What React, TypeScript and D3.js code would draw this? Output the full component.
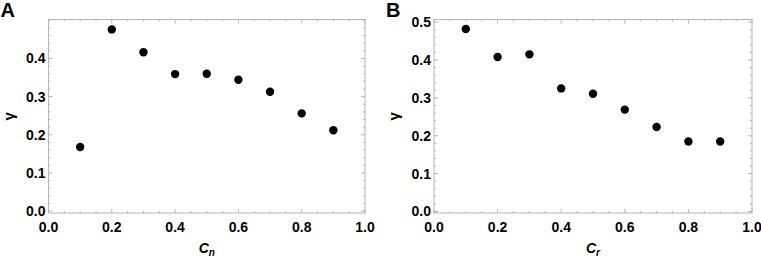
import React from "react";
import * as d3 from "d3";

const xValues = [0.1, 0.2, 0.3, 0.4, 0.5, 0.6, 0.7, 0.8, 0.9];
const gammaA = [0.168, 0.476, 0.416, 0.359, 0.36, 0.344, 0.3125, 0.256, 0.212];
const gammaB = [0.482, 0.408, 0.415, 0.325, 0.311, 0.269, 0.223, 0.185, 0.185];
const xTicks = [0, 0.2, 0.4, 0.6, 0.8, 1.0];
const yTicksA = [0, 0.1, 0.2, 0.3, 0.4];
const yTicksB = [0, 0.1, 0.2, 0.3, 0.4, 0.5];

type PanelProps = {
  letter: string;
  sub: string;
  values: number[];
  yTicks: number[];
  yDomain: [number, number];
  left: number;
  right: number;
  top: number;
  bottom: number;
};

const frameColor = "#b5b5b5";
const font = "'Liberation Sans', Arial, sans-serif";

function Panel({ letter, sub, values, yTicks, yDomain, left, right, top, bottom }: PanelProps) {
  const x = d3.scaleLinear().domain([0, 1]).range([left, right]);
  const y = d3.scaleLinear().domain(yDomain).range([bottom, top]);
  const xMinor = d3.range(0, 1.0001, 0.05);
  const yMinor = d3.range(0, yDomain[1], 0.02);
  const isMajorX = (v: number) => xTicks.some((t) => Math.abs(t - v) < 1e-6);
  const isMajorY = (v: number) => yTicks.some((t) => Math.abs(t - v) < 1e-6);
  return (
    <g>
      <text x={left - 48} y={17} fontFamily={font} fontWeight="bold" fontSize={20}>
        {letter}
      </text>
      <rect x={left} y={top} width={right - left} height={bottom - top} fill="none" stroke={frameColor} strokeWidth={1} />
      {xMinor.map((v, i) => {
        const len = isMajorX(v) ? 4 : 2;
        const px = x(v);
        return (
          <g key={"xm" + i}>
            <line x1={px} x2={px} y1={bottom} y2={bottom - len} stroke={frameColor} />
            <line x1={px} x2={px} y1={top} y2={top + len} stroke={frameColor} />
          </g>
        );
      })}
      {yMinor.map((v, i) => {
        const len = isMajorY(v) ? 4 : 2;
        const py = y(v);
        return (
          <g key={"ym" + i}>
            <line x1={left} x2={left + len} y1={py} y2={py} stroke={frameColor} />
            <line x1={right} x2={right - len} y1={py} y2={py} stroke={frameColor} />
          </g>
        );
      })}
      {xTicks.map((t) => (
        <text key={"xt" + t} x={x(t)} y={bottom + 19} textAnchor="middle" fontFamily={font} fontWeight="bold" fontSize={14}>
          {d3.format(".1f")(t)}
        </text>
      ))}
      {yTicks.map((t) => (
        <text key={"yt" + t} x={left - 3} y={y(t) + 5} textAnchor="end" fontFamily={font} fontWeight="bold" fontSize={14}>
          {d3.format(".1f")(t)}
        </text>
      ))}
      <text x={(left + right) / 2} y={bottom + 40} textAnchor="middle" fontFamily={font} fontWeight="bold" fontStyle="italic" fontSize={14}>
        C<tspan fontSize={10} dy={3}>{sub}</tspan>
      </text>
      <text
        transform={`translate(${left - 35},${(top + bottom) / 2}) rotate(-90)`}
        textAnchor="middle"
        fontFamily={font}
        fontWeight="bold"
        fontSize={15}
      >
        γ
      </text>
      {values.map((v, i) => (
        <circle key={"p" + i} cx={x(xValues[i])} cy={y(v)} r={4.2} fill="#000" />
      ))}
    </g>
  );
}

export default function App() {
  return (
    <svg width={761} height={261} style={{ position: "absolute", left: 0, top: 0, background: "#fff" }}>
      <rect width={761} height={261} fill="#fff" />
      <Panel letter="A" sub="n" values={gammaA} yTicks={yTicksA} yDomain={[-0.005, 0.502]} left={48.5} right={365} top={19.5} bottom={213} />
      <Panel letter="B" sub="r" values={gammaB} yTicks={yTicksB} yDomain={[-0.004, 0.507]} left={434} right={752} top={19.5} bottom={213} />
    </svg>
  );
}
